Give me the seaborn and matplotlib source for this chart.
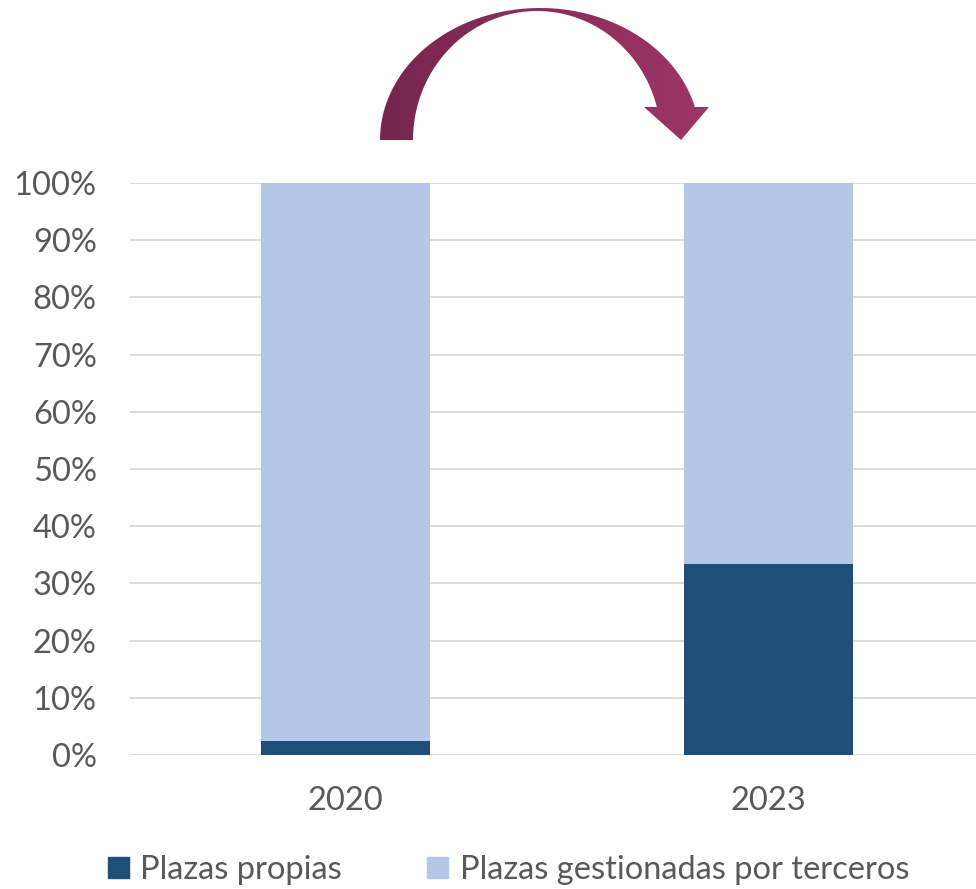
import numpy as np
import pandas as pd
import seaborn as sns
import matplotlib.pyplot as plt
from matplotlib.path import Path
from matplotlib.patches import PathPatch, Patch
from matplotlib.colors import LinearSegmentedColormap
from matplotlib.ticker import PercentFormatter

# data
years = ["2020", "2023"]
propias = [0.025, 0.334]
terceros = [0.975, 0.666]
series_names = ["Plazas propias", "Plazas gestionadas por terceros"]

dark = "#1F4E79"
light = "#B4C7E7"
txt = "#595959"

sns.set_style("white")
plt.rcParams['font.family'] = ['Lato', 'DejaVu Sans']

fig = plt.figure(figsize=(9.76, 8.89), dpi=100)
ax = fig.add_axes([130 / 976, (889 - 755) / 889, 846 / 976, 572 / 889])

df = pd.DataFrame({"year": years, "propias": propias,
                   "total": np.array(propias) + np.array(terceros)})

# light bar for the whole stack, dark bar for the bottom part
sns.barplot(data=df, x="year", y="total", color=light, width=0.4,
            saturation=1, linewidth=0, ax=ax, zorder=2)
sns.barplot(data=df, x="year", y="propias", color=dark, width=0.4,
            saturation=1, linewidth=0, ax=ax, zorder=3)

ax.set_ylim(0, 1)
ax.set_xlim(-0.51, 1.49)
ax.set_yticks(np.arange(0, 1.01, 0.1))
ax.yaxis.set_major_formatter(PercentFormatter(1.0, decimals=0))
ax.grid(axis="y", color="#D9D9D9", linewidth=1.3, zorder=0)
ax.set_axisbelow(True)
for s in ax.spines.values():
    s.set_visible(False)
ax.set_xlabel("")
ax.set_ylabel("")
ax.tick_params(axis="both", length=0, labelsize=23.5, labelcolor=txt)
ax.tick_params(axis="x", pad=22)
ax.tick_params(axis="y", pad=24)

handles = [Patch(color=dark), Patch(color=light)]
fig.legend(handles, series_names, loc="center", bbox_to_anchor=(0.521, 1 - 870 / 889),
           ncol=2, frameon=False, fontsize=23.5, labelcolor=txt,
           handlelength=0.65, handleheight=0.65, handletextpad=0.35, columnspacing=2.6)

# curved arrow above the bars, drawn in pixel coordinates
ov = fig.add_axes([0, 0, 1, 1], zorder=5)
ov.set_xlim(0, 976)
ov.set_ylim(889, 0)
ov.axis("off")

cy = 140
t_out = np.linspace(np.pi, 0.255, 80)
outer = np.column_stack([540 + 160 * np.cos(t_out), cy - 132 * np.sin(t_out)])
t_in = np.linspace(0.245, np.pi, 80)
inner = np.column_stack([537 + 124 * np.cos(t_in), cy - 129 * np.sin(t_in)])
head = [(693, 107), (709, 107), (681, 140), (644, 107), (660, 107)]
verts = np.vstack([outer, head, inner, [outer[0]]])
codes = [Path.MOVETO] + [Path.LINETO] * (len(verts) - 2) + [Path.CLOSEPOLY]
arrow = PathPatch(Path(verts, codes), facecolor="none", edgecolor="none")
ov.add_patch(arrow)
grad = np.linspace(0, 1, 256).reshape(1, -1)
cmap = LinearSegmentedColormap.from_list("arr", ["#76264F", "#9E3566"])
im = ov.imshow(grad, cmap=cmap, extent=[380, 709, 140, 5], aspect="auto")
im.set_clip_path(arrow)

fig.savefig("out.png", dpi=100)
